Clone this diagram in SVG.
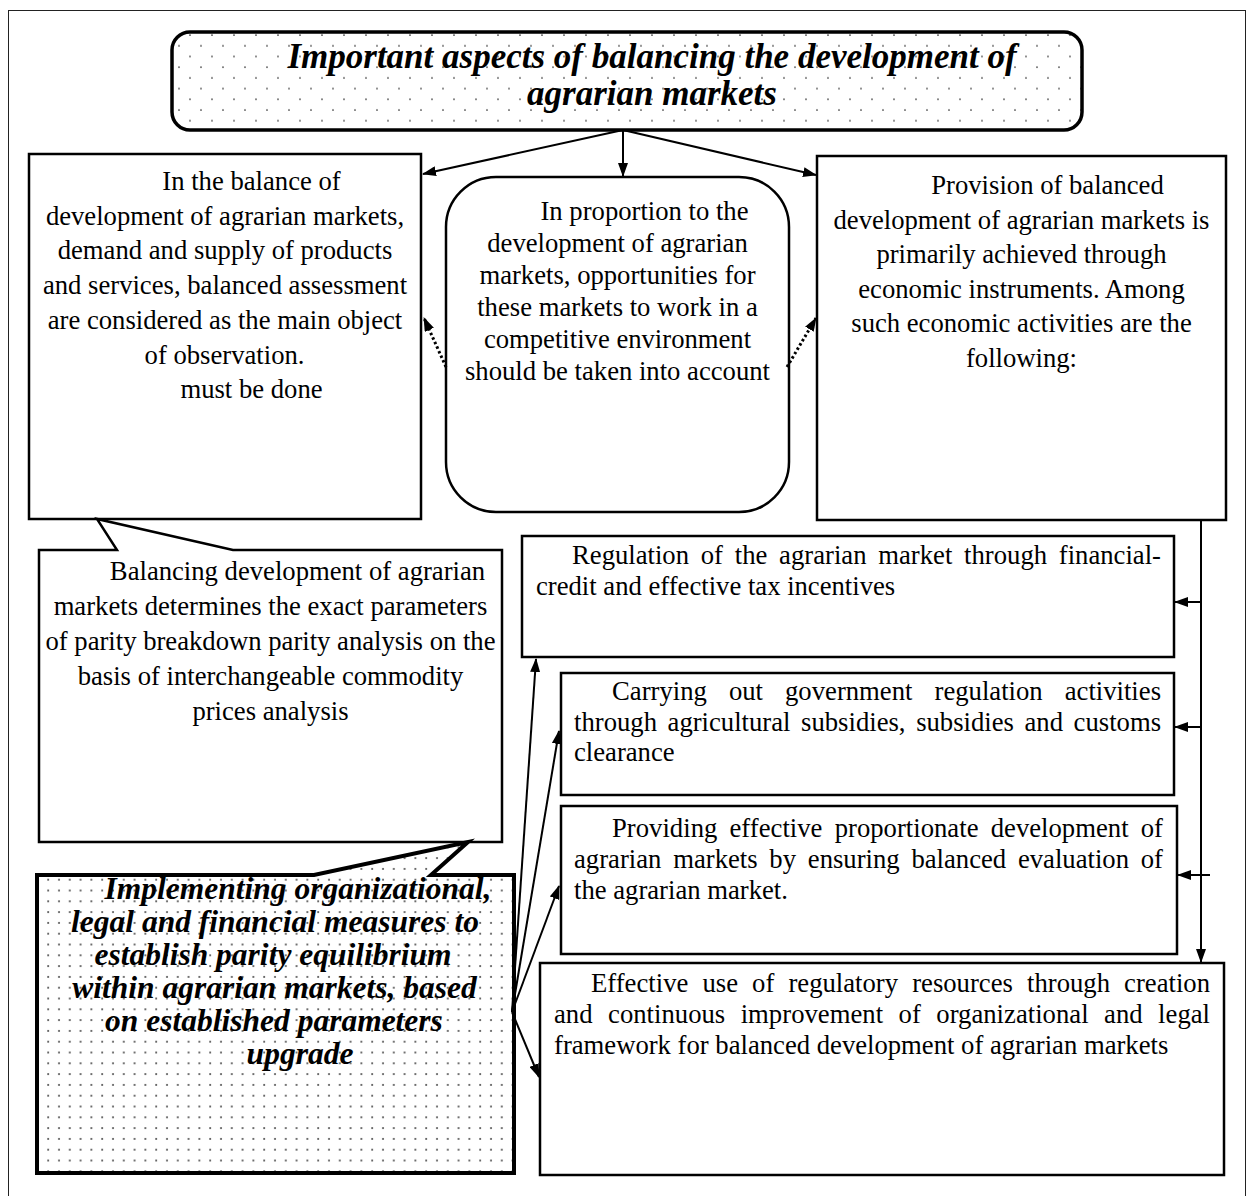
<svg xmlns="http://www.w3.org/2000/svg" width="1248" height="1196" viewBox="0 0 1248 1196">
<style>
.t{font-family:"Liberation Serif","Times New Roman",serif;font-size:26.67px;fill:#000}
.c{text-anchor:middle}
.bi{font-family:"Liberation Serif","Times New Roman",serif;font-weight:bold;font-style:italic;fill:#000;text-anchor:middle}
.box{fill:#fff;stroke:#000;stroke-width:2.5}
.ln{fill:none;stroke:#000;stroke-width:2}
.dot{fill:none;stroke:#000;stroke-width:3;stroke-dasharray:2.5 2.5}
</style>
<defs>
<pattern id="dTitle" patternUnits="userSpaceOnUse" width="22" height="21.4">
<rect width="22" height="21.4" fill="#fff"/>
<circle cx="3" cy="3" r="0.9" fill="#444"/>
<circle cx="14" cy="13.7" r="0.9" fill="#444"/>
</pattern>
<pattern id="dImpl" patternUnits="userSpaceOnUse" width="10.8" height="10.8">
<rect width="10.8" height="10.8" fill="#fff"/>
<circle cx="5" cy="5" r="1" fill="#444"/>
</pattern>
<marker id="ah" viewBox="0 0 14 10" refX="13" refY="5" markerWidth="14" markerHeight="10" markerUnits="userSpaceOnUse" orient="auto">
<path d="M0,0 L14,5 L0,10 Z" fill="#000"/>
</marker>
</defs>
<rect x="8.5" y="10.5" width="1237" height="1200" fill="#fff" stroke="#222" stroke-width="1"/>

<g id="title">
<rect x="172" y="32" width="910" height="98" rx="18" fill="url(#dTitle)" stroke="#000" stroke-width="3.5"/>
<text class="bi" font-size="35" x="652" y="68">Important aspects of balancing the development of</text>
<text class="bi" font-size="35" x="652" y="105">agrarian markets</text>
</g>

<g id="box1">
<rect class="box" x="29" y="154" width="392" height="365"/>
<text class="t c" x="251.5" y="190">In the balance of</text>
<text class="t c" x="225" y="224.7">development of agrarian markets,</text>
<text class="t c" x="225" y="259.4">demand and supply of products</text>
<text class="t c" x="225" y="294">and services, balanced assessment</text>
<text class="t c" x="225" y="328.8">are considered as the main object</text>
<text class="t c" x="224.5" y="363.5">of observation.</text>
<text class="t c" x="251.5" y="398">must be done</text>
</g>

<g id="box-middle">
<rect class="box" x="446" y="177" width="343" height="335" rx="50"/>
<text class="t c" x="644.5" y="220">In proportion to the</text>
<text class="t c" x="617.5" y="252">development of agrarian</text>
<text class="t c" x="617.5" y="284">markets, opportunities for</text>
<text class="t c" x="617.5" y="316">these markets to work in a</text>
<text class="t c" x="617.5" y="348">competitive environment</text>
<text class="t c" x="617.5" y="380">should be taken into account</text>
</g>

<g id="box3">
<rect class="box" x="817" y="156" width="409" height="364"/>
<text class="t c" x="1047.5" y="194">Provision of balanced</text>
<text class="t c" x="1021.5" y="228.6">development of agrarian markets is</text>
<text class="t c" x="1021.5" y="263.2">primarily achieved through</text>
<text class="t c" x="1021.5" y="297.8">economic instruments. Among</text>
<text class="t c" x="1021.5" y="332.4">such economic activities are the</text>
<text class="t c" x="1021.5" y="367">following:</text>
</g>

<g id="box2">
<path class="box" d="M39,550 L117,550 L97,519 L233,550 L502,550 L502,842 L39,842 Z"/>
<text class="t c" x="297.5" y="580">Balancing development of agrarian</text>
<text class="t c" x="270.5" y="615">markets determines the exact parameters</text>
<text class="t c" x="270.5" y="650">of parity breakdown parity analysis on the</text>
<text class="t c" x="270.5" y="685">basis of interchangeable commodity</text>
<text class="t c" x="270.5" y="720">prices analysis</text>
</g>

<g id="implementing">
<path d="M37,875 L314,875 L468,842 L431,875 L514,875 L514,1173 L37,1173 Z" fill="url(#dImpl)" stroke="#000" stroke-width="4" stroke-linejoin="miter"/>
<text class="bi" font-size="31.5" x="298" y="899">Implementing organizational,</text>
<text class="bi" font-size="31.5" x="275" y="932">legal and financial measures to</text>
<text class="bi" font-size="31.5" x="273" y="965">establish parity equilibrium</text>
<text class="bi" font-size="31.5" x="274.5" y="998">within agrarian markets, based</text>
<text class="bi" font-size="31.5" x="274" y="1031">on established parameters</text>
<text class="bi" font-size="31.5" x="300" y="1064">upgrade</text>
</g>

<g id="regulation">
<rect class="box" x="522" y="536" width="652" height="121"/>
<text class="t" x="572" y="564" word-spacing="5.1" textLength="589" lengthAdjust="spacing">Regulation of the agrarian market through financial-</text>
<text class="t" x="536" y="595">credit and effective tax incentives</text>
</g>

<g id="carrying">
<rect class="box" x="561" y="673" width="613" height="122"/>
<text class="t" x="612" y="700" word-spacing="15.4" textLength="549" lengthAdjust="spacing">Carrying out government regulation activities</text>
<text class="t" x="574" y="731" word-spacing="3.9" textLength="587" lengthAdjust="spacing">through agricultural subsidies, subsidies and customs</text>
<text class="t" x="574" y="761">clearance</text>
</g>

<g id="providing">
<rect class="box" x="561" y="806" width="616" height="148"/>
<text class="t" x="612" y="837" word-spacing="5.5" textLength="551" lengthAdjust="spacing">Providing effective proportionate development of</text>
<text class="t" x="574" y="868" word-spacing="5.1" textLength="589" lengthAdjust="spacing">agrarian markets by ensuring balanced evaluation of</text>
<text class="t" x="574" y="899">the agrarian market.</text>
</g>

<g id="effective">
<rect class="box" x="540" y="963" width="684" height="212"/>
<text class="t" x="591" y="992" word-spacing="7.4" textLength="619" lengthAdjust="spacing">Effective use of regulatory resources through creation</text>
<text class="t" x="554" y="1023" word-spacing="8.8" textLength="656" lengthAdjust="spacing">and continuous improvement of organizational and legal</text>
<text class="t" x="554" y="1054">framework for balanced development of agrarian markets</text>
</g>

<g id="connectors">
<line class="ln" x1="623" y1="130" x2="623" y2="176" marker-end="url(#ah)"/>
<line class="ln" x1="623" y1="130" x2="423" y2="174" marker-end="url(#ah)"/>
<line class="ln" x1="623" y1="130" x2="816" y2="175" marker-end="url(#ah)"/>
<line class="dot" x1="446" y1="367" x2="424" y2="318" marker-end="url(#ah)"/>
<line class="dot" x1="787" y1="367" x2="816" y2="318" marker-end="url(#ah)"/>
<line class="ln" x1="1201" y1="520" x2="1201" y2="962" marker-end="url(#ah)"/>
<line class="ln" x1="1201" y1="602" x2="1175" y2="602" marker-end="url(#ah)"/>
<line class="ln" x1="1201" y1="727" x2="1175" y2="727" marker-end="url(#ah)"/>
<line class="ln" x1="1210" y1="875" x2="1178" y2="875" marker-end="url(#ah)"/>
<line class="ln" x1="512" y1="1012" x2="536" y2="659" marker-end="url(#ah)"/>
<line class="ln" x1="512" y1="1012" x2="559" y2="731" marker-end="url(#ah)"/>
<line class="ln" x1="512" y1="1012" x2="559" y2="886" marker-end="url(#ah)"/>
<line class="ln" x1="512" y1="1012" x2="539" y2="1077" marker-end="url(#ah)"/>
</g>
</svg>
